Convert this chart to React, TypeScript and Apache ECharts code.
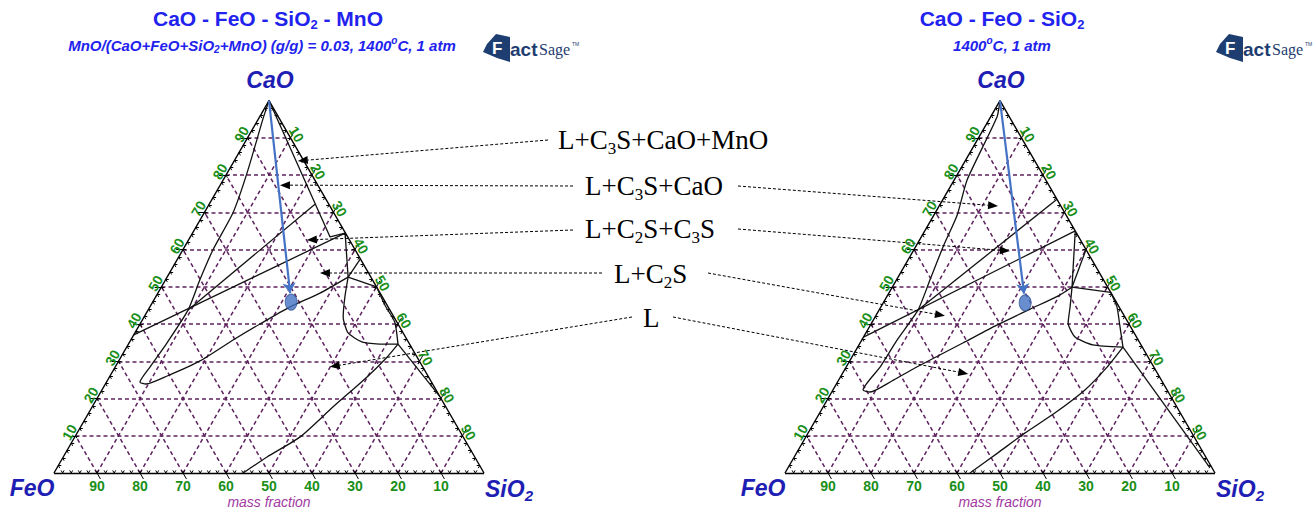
import { useEffect, useRef } from 'react';
import * as echarts from 'echarts';

// A composition is [CaO mass-%, SiO2 mass-%]; FeO makes up the balance.
type Comp = [number, number];

const H = Math.sqrt(3) / 2;
const toXY = ([c, s]: Comp): [number, number] => [s / 100 + c / 200, (c / 100) * H];

const TICK_VALUES = [10, 20, 30, 40, 50, 60, 70, 80, 90];
const TICK_LABELS = ['10', '20', '30', '40', '50', '60', '70', '80', '90'];
const MINOR_STEP = 2;

// ---- CaO - FeO - SiO2 - MnO section, MnO/(total) = 0.03, 1400 °C ----
const S1_LIQUID_LENS: Comp[] = [
  [100, 0], [95.3, 1.0], [80.6, 4.6], [69.8, 6.7], [59.9, 7.0], [51.8, 8.0], [43.8, 9.3],
  [34.9, 8.8], [28.5, 8.1], [24.4, 7.8], [23.9, 9.45], [26.05, 13.3], [30.1, 18.9], [35.7, 23.8],
  [40.0, 27.9], [44.6, 32.6], [48.3, 37.7], [52.6, 42.1],
];
const S1_C2S_TIE: Comp[] = [[37.1, 0], [64.4, 35.5]];
const S1_C3S_TIE: Comp[] = [[43.8, 9.3], [72.2, 24.6]];
const S1_MNO_FIELD: Comp[] = [[100, 0], [63.4, 32.5], [64.4, 35.5]];
const S1_C2S_TO_J: Comp[] = [[64.4, 35.5], [52.6, 42.1]];
const S1_EDGE_TO_J: Comp[] = [[57.5, 42.5], [52.6, 42.1]];
const S1_J_TO_EDGE: Comp[] = [[52.6, 42.1], [50, 50]];
const S1_EDGE_CURVE: Comp[] = [[50, 50], [45, 54.5], [40.5, 59.0], [34.6, 62.7]];
const S1_C2S_LIQUIDUS: Comp[] = [
  [52.6, 42.1], [47.3, 44.0], [41.9, 46.3], [37.6, 49.6], [35.2, 54.0], [34.6, 58.5], [34.6, 62.7],
];
const S1_K_TO_EDGE: Comp[] = [[34.6, 62.7], [20.5, 79.5]];
const S1_SILICA_LIQUIDUS: Comp[] = [
  [34.6, 62.7], [31.1, 61.9], [25.8, 59.9], [17.7, 56.0], [9.7, 52.4], [4.3, 47.4], [0, 44],
];
const S1_BULK: Comp = [45.9, 32.2];
const S1_TARGETS: (Comp | null)[] = [[83.8, 14.8], [77.3, 13.9], [62.6, 27.5], [53.7, 35.0], [28.5, 49.9]];

// ---- CaO - FeO - SiO2, 1400 °C ----
const S2_LIQUID_LENS: Comp[] = [
  [100, 0], [95.6, 1.5], [78.7, 3.0], [69.3, 5.4], [60.7, 6.4], [51.8, 7.8], [43.8, 9.05],
  [35.7, 8.2], [28.5, 7.9], [22.3, 7.0], [21.75, 8.9], [24.7, 12.5], [28.2, 16.1], [34.9, 23.9],
  [39.7, 29.4], [44.0, 35.0], [47.5, 39.7], [49.9, 41.8],
];
const S2_C2S_TIE: Comp[] = [[36.5, 0], [65, 35]];
const S2_C3S_TIE: Comp[] = [[43.8, 9.05], [73.5, 26.5]];
const S2_C2S_TO_J: Comp[] = [[65, 35], [49.9, 41.8]];
const S2_EDGE_TO_J: Comp[] = [[60, 40], [49.9, 41.8]];
const S2_J_TO_EDGE: Comp[] = [[49.9, 41.8], [48.5, 51.5]];
const S2_EDGE_CURVE: Comp[] = [[48.5, 51.5], [44.6, 54.9], [39.7, 58.0], [33.8, 61.7]];
const S2_C2S_LIQUIDUS: Comp[] = [[49.9, 41.8], [44.6, 44.0], [40.3, 45.7], [36.5, 49.2], [34.4, 54.4], [33.8, 61.7]];
const S2_K_TO_CORNER: Comp[] = [[33.8, 61.7], [1.5, 98]];
const S2_SILICA_LIQUIDUS: Comp[] = [
  [33.8, 61.7], [28.5, 60.7], [22.3, 58.6], [16.1, 54.7], [10.7, 50.4], [5.4, 46.8], [0, 43],
];
const S2_BULK: Comp = [45.7, 33.0];
const S2_TARGETS: (Comp | null)[] = [null, [71.7, 13.7], [59.6, 22.5], [42.2, 16.1], [26.6, 29.3]];

const PHASE_LABELS = ['L+C3S+CaO+MnO', 'L+C3S+CaO', 'L+C2S+C3S', 'L+C2S', 'L'];

// layout of the phase-field labels and where their leaders leave them
const LABEL_POS: [number, number][] = [[558, 140], [585, 186], [585, 229], [614, 274], [643, 318]];
const LEFT_LEADER_START: [number, number][] = [[548, 140], [573, 186], [573, 230], [602, 273], [632, 317]];
const RIGHT_LEADER_START: ([number, number] | null)[] = [null, [738, 186], [738, 229], [708, 273], [673, 317]];

const PANELS = [
  {
    left: 54,
    curves: [S1_LIQUID_LENS, S1_C2S_TIE, S1_C3S_TIE, S1_MNO_FIELD, S1_C2S_TO_J, S1_EDGE_TO_J, S1_J_TO_EDGE,
      S1_EDGE_CURVE, S1_C2S_LIQUIDUS, S1_K_TO_EDGE, S1_SILICA_LIQUIDUS],
    bulk: S1_BULK,
    targets: S1_TARGETS,
    starts: LEFT_LEADER_START,
    title: '{b|CaO - FeO - SiO}{bs|2}{b| - MnO}',
    subtitle: '{i|MnO/(CaO+FeO+SiO}{is|2}{i|+MnO) (g/g) = 0.03, 1400}{sup|o}{i|C, 1 atm}',
    titleX: 268,
    subX: 262,
    logoX: 483,
  },
  {
    left: 785,
    curves: [S2_LIQUID_LENS, S2_C2S_TIE, S2_C3S_TIE, S2_C2S_TO_J, S2_EDGE_TO_J, S2_J_TO_EDGE,
      S2_EDGE_CURVE, S2_C2S_LIQUIDUS, S2_K_TO_CORNER, S2_SILICA_LIQUIDUS],
    bulk: S2_BULK,
    targets: S2_TARGETS,
    starts: RIGHT_LEADER_START,
    title: '{b|CaO - FeO - SiO}{bs|2}',
    subtitle: '{i|1400}{sup|o}{i|C, 1 atm}',
    titleX: 1002,
    subX: 1002,
    logoX: 1216,
  },
];

const SIDE = 430;
const BASE_Y = 473;
const TRI_H = SIDE * H;

const SANS = '"Liberation Sans", Arial, sans-serif';
const SERIF = '"Liberation Serif", "Times New Roman", serif';
const GRID_PURPLE = '#5E225E';
const TICK_GREEN = '#1A8F1A';
const TITLE_BLUE = '#2222EE';
const VERTEX_BLUE = '#1E1EB4';
const ARROW_BLUE = '#4472C4';
const LOGO_NAVY = '#1E3D70';

function seg(a: Comp, b: Comp) {
  return { coords: [toXY(a), toXY(b)] };
}

function panelSeries(g: number, curves: Comp[][], bulk: Comp): any[] {
  const ax = { coordinateSystem: 'cartesian2d', xAxisIndex: g, yAxisIndex: g };
  const gridSegs: any[] = [];
  TICK_VALUES.forEach((k) => {
    gridSegs.push(seg([k, 0], [k, 100 - k])); // CaO = k
    gridSegs.push(seg([0, k], [100 - k, k])); // SiO2 = k
    gridSegs.push(seg([0, 100 - k], [100 - k, 0])); // FeO = k
  });
  const edges = [seg([0, 0], [0, 100]), seg([0, 0], [100, 0]), seg([0, 100], [100, 0])];
  const ticks: any[] = [];
  const d = 0.7;
  for (let p = MINOR_STEP; p < 100; p += MINOR_STEP) {
    ticks.push(seg([0, p], [d, p]), seg([0, p], [d, p - d]));
    ticks.push(seg([p, 0], [p, d]), seg([p, 0], [p - d, d]));
    ticks.push(seg([p, 100 - p], [p, 100 - p - d]), seg([p, 100 - p], [p - d, 100 - p]));
  }
  const o = 1.6;
  TICK_VALUES.forEach((k) => {
    ticks.push(seg([k, 0], [k, -o]));
    ticks.push(seg([100 - k, k], [100 - k + o, k]));
    ticks.push(seg([0, 100 - k], [-o, 100 - k + o]));
  });
  const arrowEnd: Comp = [100 + (bulk[0] - 100) * 0.955, bulk[1] * 0.955];
  const out: any[] = [
    {
      type: 'lines', ...ax, silent: true, clip: false, z: 1,
      lineStyle: { color: GRID_PURPLE, width: 1.5, type: [4, 3], opacity: 1 },
      data: gridSegs,
    },
    {
      type: 'lines', ...ax, silent: true, clip: false, z: 2,
      lineStyle: { color: '#000', width: 1.4, opacity: 1 },
      data: edges,
    },
    {
      type: 'lines', ...ax, silent: true, clip: false, z: 2,
      lineStyle: { color: '#000', width: 1, opacity: 1 },
      data: ticks,
    },
  ];
  curves.forEach((c) => {
    out.push({
      type: 'line', ...ax, silent: true, clip: false, z: 3,
      showSymbol: false, smooth: c.length > 3 ? 0.2 : false,
      lineStyle: { color: '#111', width: 1.3 },
      data: c.map(toXY),
    });
  });
  out.push({
    type: 'lines', ...ax, silent: true, clip: false, z: 4,
    symbol: ['none', 'arrow'], symbolSize: 10,
    lineStyle: { color: ARROW_BLUE, width: 2.2, opacity: 1 },
    data: [seg([100, 0], arrowEnd)],
  });
  out.push({
    type: 'scatter', ...ax, silent: true, z: 5,
    symbol: 'circle', symbolSize: [12, 16],
    itemStyle: { color: ARROW_BLUE, borderColor: '#2F528F', borderWidth: 1 },
    data: [toXY(bulk)],
  });
  return out;
}

function buildOption(): any {
  const grids = PANELS.map((p) => ({ left: p.left, top: BASE_Y - TRI_H, width: SIDE, height: TRI_H }));
  return {
    animation: false,
    backgroundColor: '#ffffff',
    grid: grids,
    xAxis: PANELS.map((_, g) => ({ gridIndex: g, type: 'value', min: 0, max: 1, show: false })),
    yAxis: PANELS.map((_, g) => ({ gridIndex: g, type: 'value', min: 0, max: H, show: false })),
    series: PANELS.flatMap((p, g) => panelSeries(g, p.curves, p.bulk)),
  };
}

function formulaRich(label: string): string {
  return label
    .split(/(\d+)/)
    .filter((t) => t.length > 0)
    .map((t) => (/^\d+$/.test(t) ? `{s|${t}}` : `{n|${t}}`))
    .join('');
}

function text(x: number, y: number, str: string, style: any, rotation = 0): any {
  return {
    type: 'text', x, y, rotation, silent: true, z: 10,
    style: { text: str, align: 'center', verticalAlign: 'middle', textAlign: 'center', textVerticalAlign: 'middle', ...style },
  };
}

function arrowHead(sx: number, sy: number, tx: number, ty: number) {
  const dx = tx - sx;
  const dy = ty - sy;
  const len = Math.hypot(dx, dy);
  const ux = dx / len;
  const uy = dy / len;
  const L = 10;
  const w = 4;
  const bx = tx - ux * L;
  const by = ty - uy * L;
  return {
    line: { type: 'line', silent: true, z: 9, shape: { x1: sx, y1: sy, x2: bx, y2: by }, style: { stroke: '#000', lineWidth: 1, lineDash: [3, 2] } },
    head: {
      type: 'polygon', silent: true, z: 9,
      shape: { points: [[tx, ty], [bx - uy * w, by + ux * w], [bx + uy * w, by - ux * w]] },
      style: { fill: '#000' },
    },
  };
}

function logo(x0: number): any[] {
  const y0 = 33;
  return [
    {
      type: 'polygon', silent: true, z: 10,
      shape: { points: [[x0 + 4, y0 + 11], [x0 + 13, y0 + 1], [x0 + 27, y0 + 4], [x0 + 27, y0 + 29], [x0 + 14, y0 + 25], [x0, y0 + 19]] },
      style: { fill: LOGO_NAVY },
    },
    { type: 'text', silent: true, z: 11, x: x0 + 9, y: y0 + 7, style: { text: 'F', fill: '#fff', font: `bold 17px ${SANS}` } },
    { type: 'text', silent: true, z: 11, x: x0 + 27, y: y0 + 7, style: { text: 'act', fill: LOGO_NAVY, font: `bold 19px ${SANS}` } },
    { type: 'text', silent: true, z: 11, x: x0 + 56, y: y0 + 8, style: { text: 'Sage', fill: LOGO_NAVY, font: `16px ${SERIF}` } },
    { type: 'text', silent: true, z: 11, x: x0 + 89, y: y0 + 8, style: { text: 'TM', fill: LOGO_NAVY, font: `5px ${SANS}` } },
  ];
}

function buildGraphics(chart: any): any[] {
  const els: any[] = [];
  const titleRich = {
    b: { fontSize: 21, fontWeight: 'bold', fontFamily: SANS, fill: TITLE_BLUE, lineHeight: 25 },
    bs: { fontSize: 13, fontWeight: 'bold', fontFamily: SANS, fill: TITLE_BLUE, lineHeight: 13, verticalAlign: 'bottom' },
  };
  const subRich = {
    i: { fontSize: 15, fontWeight: 'bold', fontStyle: 'italic', fontFamily: SANS, fill: TITLE_BLUE, lineHeight: 19 },
    is: { fontSize: 10, fontWeight: 'bold', fontStyle: 'italic', fontFamily: SANS, fill: TITLE_BLUE, lineHeight: 10, verticalAlign: 'bottom' },
    sup: { fontSize: 10, fontWeight: 'bold', fontStyle: 'italic', fontFamily: SANS, fill: TITLE_BLUE, lineHeight: 10, verticalAlign: 'top' },
  };
  const vRich = {
    v: { fontSize: 23, fontWeight: 'bold', fontStyle: 'italic', fontFamily: SANS, fill: VERTEX_BLUE, lineHeight: 28 },
    vs: { fontSize: 15, fontWeight: 'bold', fontStyle: 'italic', fontFamily: SANS, fill: VERTEX_BLUE, lineHeight: 15, verticalAlign: 'bottom' },
  };
  const tickStyle = { fill: TICK_GREEN, font: `bold 14px ${SANS}` };

  PANELS.forEach((p, g) => {
    const px = (c: Comp) => chart.convertToPixel({ gridIndex: g }, toXY(c)) as number[];
    els.push(text(p.titleX, 18, p.title, { rich: titleRich }));
    els.push(text(p.subX, 45, p.subtitle, { rich: subRich }));
    els.push(...logo(p.logoX));

    const apex = px([100, 0]);
    const feo = px([0, 0]);
    const sio2 = px([0, 100]);
    els.push(text(apex[0] + 1, 80, '{v|CaO}', { rich: vRich }));
    els.push(text(feo[0] - 22, 488, '{v|FeO}', { rich: vRich }));
    els.push(text(sio2[0] + 25, 489, '{v|SiO}{vs|2}', { rich: vRich }));
    els.push(text((feo[0] + sio2[0]) / 2, 502, 'mass fraction', { fill: '#A23BA2', font: `italic 14px ${SANS}` }));

    TICK_VALUES.forEach((k, i) => {
      const l = px([k, 0]);
      els.push(text(l[0] - 0.866 * 7, l[1] - 0.5 * 7, TICK_LABELS[i], tickStyle, Math.PI / 3));
      const r = px([100 - k, k]);
      els.push(text(r[0] + 0.866 * 7, r[1] - 0.5 * 7, TICK_LABELS[i], tickStyle, -Math.PI / 3));
      const b = px([0, 100 - k]);
      els.push(text(b[0], b[1] + 12.5, TICK_LABELS[i], tickStyle));
    });

    p.targets.forEach((t, i) => {
      const st = p.starts[i];
      if (!t || !st) return;
      const tp = px(t);
      const a = arrowHead(st[0], st[1], tp[0], tp[1]);
      els.push(a.line, a.head);
    });
  });

  const labelRich = {
    n: { fontSize: 27, fontFamily: SERIF, fill: '#000', lineHeight: 34 },
    s: { fontSize: 17, fontFamily: SERIF, fill: '#000', lineHeight: 17, verticalAlign: 'bottom' },
  };
  PHASE_LABELS.forEach((lab, i) => {
    const [x, y] = LABEL_POS[i];
    els.push({
      type: 'text', x, y, silent: true, z: 10,
      style: { text: formulaRich(lab), rich: labelRich, align: 'left', textAlign: 'left', verticalAlign: 'middle', textVerticalAlign: 'middle' },
    });
  });
  return els;
}

export default function App() {
  const ref = useRef<HTMLDivElement>(null);
  useEffect(() => {
    const chart = echarts.init(ref.current!, null, { renderer: 'svg' });
    chart.setOption(buildOption());
    chart.setOption({ graphic: { elements: buildGraphics(chart) } });
    return () => chart.dispose();
  }, []);
  return (
    <div
      ref={ref}
      style={{ position: 'fixed', left: 0, top: 0, width: 1313, height: 512, background: '#ffffff' }}
    />
  );
}
